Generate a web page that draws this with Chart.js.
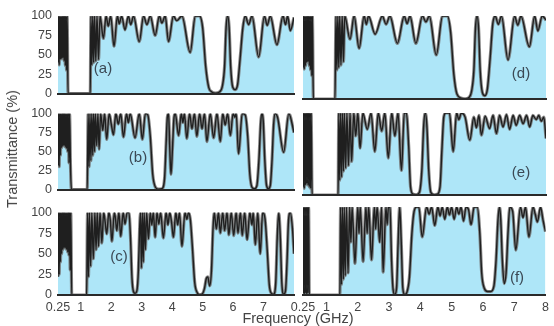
<!DOCTYPE html>
<html>
<head>
<meta charset="utf-8">
<script src="https://cdn.jsdelivr.net/npm/chart.js@4.4.1/dist/chart.umd.min.js"></script>
<style>
  body { margin: 0; background: #fff; }
  #wrap { position: relative; width: 554px; height: 326px; overflow: hidden; font-family: "Liberation Sans", Arial, sans-serif; }
  #wrap canvas { position: absolute; }
  .tag { position: absolute; transform: translate(-50%, -50%); font-size: 15px; color: #3b4955; }
  #ytitle { position: absolute; left: 12px; top: 149px; transform: translate(-50%, -50%) rotate(-90deg); font-size: 14.5px; color: #444; white-space: nowrap; }
  #xtitle { position: absolute; left: 298px; top: 318px; transform: translate(-50%, -50%); font-size: 14.5px; color: #444; white-space: nowrap; }
</style>
</head>
<body>
<div id="wrap">
  <canvas id="cA" width="300" height="107" style="left:0;top:0"></canvas>
  <canvas id="cD" width="304" height="107" style="left:250px;top:0"></canvas>
  <canvas id="cB" width="300" height="103" style="left:0;top:100px"></canvas>
  <canvas id="cE" width="304" height="103" style="left:250px;top:100px"></canvas>
  <canvas id="cC" width="300" height="127" style="left:0;top:199px"></canvas>
  <canvas id="cF" width="304" height="127" style="left:250px;top:199px"></canvas>
  <div class="tag" style="left:103px;top:67px">(a)</div>
  <div class="tag" style="left:521px;top:72px">(d)</div>
  <div class="tag" style="left:138px;top:156px">(b)</div>
  <div class="tag" style="left:521px;top:171px">(e)</div>
  <div class="tag" style="left:119px;top:255px">(c)</div>
  <div class="tag" style="left:517px;top:276px">(f)</div>
  <div id="ytitle">Transmittance (%)</div>
  <div id="xtitle">Frequency (GHz)</div>
</div>
<script>
// tick labels
const yTicks = [0, 25, 50, 75, 100];
const xTicksLeft = [0.25, 1, 2, 3, 4, 5, 6, 7];
const xTicksRight = [0.25, 1, 2, 3, 4, 5, 6, 7, 8];

// (a)
const freqA = [0.25,0.27,0.29,0.31,0.33,0.35,0.37,0.39,0.41,0.43,0.45,0.47,0.49,0.51,0.53,0.55,0.58,1.28,1.31,
  1.33,1.36,1.39,1.42,1.45,1.49,1.53,1.58,1.63,
  1.74,1.83,1.90,1.98,2.09,2.20,2.26,2.34,2.45,2.56,2.64,2.73,2.92,3.06,3.17,3.28,3.44,3.58,3.66,3.77,3.88,4.04,4.15,4.32,4.59,4.76,4.90,
  5.00,5.10,5.20,5.30,5.42,5.55,5.65,5.72,5.77,5.82,5.87,5.92,5.99,6.07,6.15,6.23,6.32,6.40,
  6.51,6.62,6.84,7.03,7.12,7.22,7.44,7.64,7.72,7.79,7.88,8.00];
const transA = [40,100,37,100,44,100,45,100,46,100,42,100,36,100,30,100,0,0,0,
  100,37,100,40,100,42,100,44,100,
  71,100,87,100,61,100,90,100,82,100,89,100,67,100,89,100,75,100,91,100,67,100,94,100,53,100,100,
  85,35,8,2,0.5,2,10,35,85,100,85,35,8,5,12,45,85,100,
  89,100,47,100,88,100,63,100,89,100,81,98];

// (d)
const freqD = [0.25,0.27,0.29,0.31,0.33,0.35,0.37,0.39,0.41,0.43,0.45,0.47,0.49,0.51,0.53,0.55,0.58,1.27,
  1.30,1.33,1.36,1.39,1.42,1.46,1.50,1.54,1.58,
  1.75,1.88,2.04,2.20,2.27,2.34,2.55,2.78,2.90,3.02,3.26,3.48,3.57,3.66,3.85,4.06,4.17,4.28,4.50,4.70,4.86,
  4.96,5.06,5.16,5.30,5.42,5.55,5.63,5.70,5.75,5.80,5.85,5.90,5.97,6.05,6.13,6.22,6.30,6.38,
  6.48,6.58,6.79,7.00,7.10,7.20,7.47,7.64,7.74,7.88,8.00];
const transD = [38,100,36,100,40,100,44,100,45,100,40,100,35,100,28,100,0,0,
  100,35,100,38,100,41,100,45,100,
  72,100,61,100,90,100,78,100,90,100,67,100,91,100,67,100,93,100,53,100,100,
  80,30,6,1,0.3,2,10,35,85,100,85,35,8,4,12,50,90,100,
  90,100,47,100,89,100,63,100,82,100,95];

// (b)
const freqB = [0.25,0.27,0.29,0.31,0.33,0.35,0.37,0.39,0.41,0.43,0.45,0.47,0.49,0.51,0.53,0.55,0.57,0.59,0.61,0.63,0.66,0.69,
  1.21,1.24,1.27,1.30,1.33,1.36,1.39,1.42,1.45,1.48,1.52,1.56,1.60,1.65,
  1.72,1.78,1.85,1.93,2.00,2.07,2.15,2.23,2.31,2.40,2.50,2.56,2.62,2.78,2.92,3.02,3.12,3.20,
  3.28,3.36,3.45,3.55,3.66,3.75,3.80,3.84,3.88,3.92,3.96,4.01,4.06,4.10,
  4.21,4.30,4.35,4.40,4.48,4.57,4.65,4.73,4.81,4.90,4.98,5.06,5.14,5.25,5.36,5.47,5.58,5.66,5.74,5.82,5.91,6.00,6.06,6.10,6.18,6.30,6.40,
  6.48,6.55,6.62,6.70,6.78,6.85,6.91,6.95,6.99,7.04,7.10,7.16,7.22,7.28,7.33,7.38,
  7.46,7.66,7.83,8.00];
const transB = [32,100,30,100,45,100,55,100,57,100,58,100,56,100,54,100,50,100,35,100,31,0,
  0,100,30,100,38,100,45,100,50,100,58,100,53,100,
  78,100,66,100,86,72,100,86,100,69,100,88,100,68,100,66,100,98,
  70,20,3,0.5,1,15,60,95,100,55,20,55,95,100,
  71,100,88,100,67,100,80,100,70,100,80,100,63,100,68,100,63,100,85,100,71,100,95,100,47,100,98,
  70,20,3,1,5,40,90,100,90,40,5,1,5,40,85,100,
  95,49,100,75];

// (e)
const freqE = [0.25,0.27,0.29,0.31,0.33,0.35,0.37,0.39,0.41,0.43,0.45,0.47,0.49,0.51,0.54,
  1.37,1.39,1.42,1.45,1.48,1.51,1.54,1.57,1.61,1.65,1.70,1.75,1.80,1.87,1.93,2.00,2.07,2.16,
  2.30,2.42,2.54,2.65,2.76,2.86,2.97,3.08,3.18,3.28,3.39,3.48,3.55,
  3.62,3.68,3.76,3.86,3.96,4.04,4.10,4.15,4.20,4.26,4.33,4.43,4.53,4.62,4.68,4.74,4.80,
  4.92,5.04,5.15,5.22,5.30,5.42,5.57,5.70,5.78,5.86,5.94,6.06,6.20,6.31,6.42,6.52,6.63,6.74,6.84,6.95,
  7.05,7.16,7.27,7.38,7.48,7.58,7.69,7.77,7.85,7.93,8.00];
const transE = [10,100,8,100,12,100,14,100,12,100,10,100,8,100,0,
  0,100,18,100,22,100,29,100,33,100,36,100,41,100,72,100,57,100,
  80,100,53,100,78,100,45,100,72,100,30,100,100,
  60,10,1,0.3,3,30,85,100,85,30,3,0.3,1,10,55,95,100,
  100,53,100,92,100,95,67,95,82,97,73,96,81,97,75,97,83,98,80,97,
  85,97,87,97,83,97,92,97,90,95,69];

// (c)
const freqC = [0.25,0.27,0.29,0.31,0.33,0.35,0.37,0.39,0.41,0.43,0.45,0.47,0.49,0.51,0.53,0.55,0.57,0.59,0.61,0.63,0.65,0.67,0.70,
  1.19,1.22,1.25,1.28,1.32,1.36,1.41,1.46,1.50,1.54,1.58,1.63,1.69,1.75,1.80,1.85,1.92,1.97,2.02,2.10,2.14,2.18,2.25,2.31,2.39,2.45,2.52,2.58,
  2.63,2.68,2.73,2.78,2.84,2.89,2.93,2.96,2.99,3.02,3.05,3.08,3.12,3.16,
  3.22,3.28,3.33,3.38,3.44,3.50,3.56,3.62,3.71,3.80,3.86,3.92,3.98,4.04,4.12,4.18,4.24,4.32,4.42,4.48,4.54,
  4.60,4.66,4.74,4.82,4.90,4.98,5.06,5.12,5.17,5.23,5.29,5.34,5.38,
  5.45,5.52,5.58,5.66,5.72,5.80,5.86,5.94,6.02,6.10,6.16,6.24,6.30,6.38,6.46,6.55,6.62,6.66,6.73,6.81,6.89,6.97,
  7.05,7.12,7.19,7.26,7.33,7.40,7.45,7.50,7.55,7.60,7.66,7.72,7.77,7.82,7.88,7.95,8.00];
const transC = [22,100,25,100,40,100,50,100,55,100,57,100,57,100,55,100,52,100,48,100,30,100,0,
  0,100,22,100,35,100,44,100,55,100,59,100,63,100,88,74,100,90,65,100,92,78,100,71,100,86,100,100,
  70,20,4,2,5,30,80,100,33,100,40,100,55,100,
  68,100,85,100,70,100,86,100,69,100,85,100,88,70,100,85,100,59,100,92,100,
  90,60,15,3,0.5,1,8,20,22,11,30,80,100,
  80,100,75,100,78,100,73,100,72,100,75,100,72,100,67,100,85,100,61,100,50,100,
  92,55,12,2,1,15,70,100,70,15,1,5,40,90,100,80,50];

// (f)
const freqF = [0.25,0.27,0.29,0.31,0.33,0.35,0.37,0.39,0.41,0.43,0.45,
  1.43,1.45,1.48,1.51,1.54,1.57,1.60,1.64,1.69,1.74,1.78,1.82,1.91,2.00,2.04,2.08,2.17,2.26,2.30,2.35,
  2.44,2.53,2.57,2.62,2.70,2.76,2.81,2.90,2.94,2.98,3.03,
  3.08,3.13,3.18,3.24,3.29,3.34,3.39,3.44,3.50,3.57,3.65,3.73,3.80,3.88,
  3.95,4.06,4.20,4.28,4.36,4.46,4.56,4.63,4.70,4.78,4.86,4.93,5.00,5.08,5.16,5.23,5.30,5.38,5.46,5.54,5.62,5.72,5.82,
  5.90,5.96,6.04,6.15,6.25,6.35,6.42,6.48,6.53,6.57,6.62,6.68,6.74,6.80,6.86,
  6.95,7.05,7.20,7.28,7.36,7.47,7.60,7.67,7.74,7.84,7.92,8.00];
const transF = [2,100,1,100,2,100,1,100,2,100,0,
  0,100,12,100,18,100,22,100,25,100,60,100,36,100,70,100,38,100,70,100,
  40,100,75,100,60,100,26,100,80,100,100,
  40,6,0.5,8,60,100,60,8,0.5,3,20,70,95,100,
  100,66,100,92,100,79,100,90,100,86,100,91,100,86,100,92,100,84,100,97,80,100,100,
  70,25,8,4,4,10,40,85,100,85,40,13,25,70,100,
  95,51,100,88,100,66,100,92,83,100,85,72];

const rows = [
  { padTop: 16, axisH: 8, showX: false },
  { padTop: 13, axisH: 8, showX: false },
  { padTop: 8, axisH: 31, showX: true }
];
const cols = [
  { axisW: 58, padRight: 6, showY: true, xt: xTicksLeft },
  { axisW: 53, padRight: 8, showY: false, xt: xTicksRight }
];

function makePanel(id, freq, trans, r, c) {
  const row = rows[r], col = cols[c];
  const pts = freq.map((f, i) => ({ x: f, y: trans[i] }));
  new Chart(document.getElementById(id), {
    type: 'line',
    data: {
      datasets: [
        { data: pts, borderColor: '#1f1f1f', borderWidth: 1.4, fill: false, pointRadius: 0,
          cubicInterpolationMode: 'monotone', order: 0 },
        { data: pts, borderColor: 'rgba(115,115,115,0.85)', borderWidth: 3.2, fill: 'origin',
          backgroundColor: '#aee6f8', pointRadius: 0, cubicInterpolationMode: 'monotone', order: 1 }
      ]
    },
    options: {
      responsive: false,
      animation: false,
      layout: { padding: { top: row.padTop, right: col.padRight, bottom: 0, left: 0 } },
      plugins: { legend: { display: false }, tooltip: { enabled: false } },
      scales: {
        x: {
          type: 'linear', min: 0.25, max: 8,
          afterBuildTicks: s => { s.ticks = col.xt.map(v => ({ value: v })); },
          afterFit: s => { s.height = row.axisH; },
          grid: { display: false, drawTicks: false },
          border: { display: true, color: '#2a2a2a', width: 2, z: 1 },
          ticks: { display: row.showX, padding: 5, color: '#444', autoSkip: false, maxRotation: 0,
                   font: { size: 12.5, family: '"Liberation Sans", Arial, sans-serif' },
                   callback: v => String(v) }
        },
        y: {
          min: 0, max: 100,
          afterBuildTicks: s => { s.ticks = yTicks.map(v => ({ value: v })); },
          afterFit: s => { s.width = col.axisW; },
          grid: { display: false, drawTicks: false },
          border: { display: false },
          ticks: { display: col.showY, padding: 6, color: '#444',
                   font: { size: 12.5, family: '"Liberation Sans", Arial, sans-serif' } }
        }
      }
    }
  });
}

makePanel('cA', freqA, transA, 0, 0);
makePanel('cD', freqD, transD, 0, 1);
makePanel('cB', freqB, transB, 1, 0);
makePanel('cE', freqE, transE, 1, 1);
makePanel('cC', freqC, transC, 2, 0);
makePanel('cF', freqF, transF, 2, 1);
</script>
</body>
</html>
